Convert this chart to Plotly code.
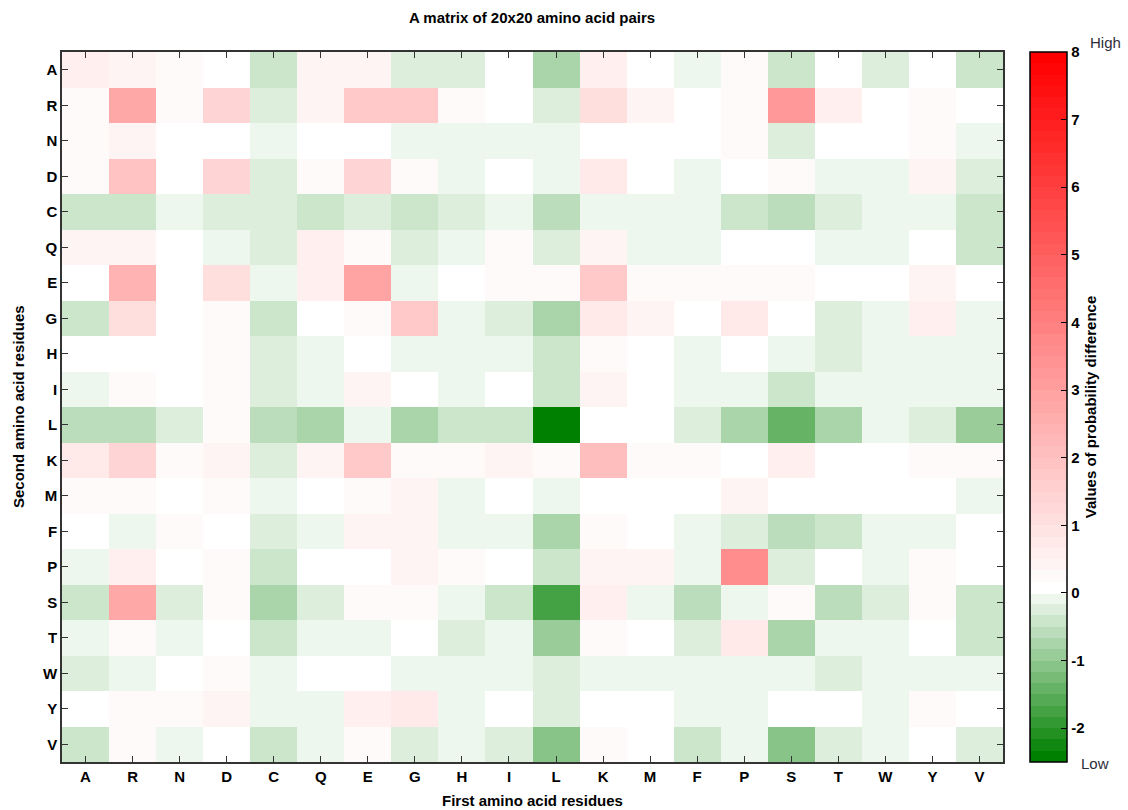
import plotly.graph_objects as go

residues = ["A", "R", "N", "D", "C", "Q", "E", "G", "H", "I",
            "L", "K", "M", "F", "P", "S", "T", "W", "Y", "V"]

# rows = second amino acid residue, columns = first amino acid residue
row_A = [0.6, 0.4, 0.25, 0, -0.45, 0.4, 0.4, -0.3, -0.3, 0, -0.8, 0.6, 0, -0.15, 0.25, -0.45, 0, -0.3, 0, -0.45]
row_R = [0.2, 2.75, 0.25, 1.4, -0.3, 0.4, 1.8, 1.8, 0.25, 0, -0.3, 1.05, 0.4, 0, 0.25, 3.25, 0.6, 0, 0.25, 0]
row_N = [0.25, 0.4, 0, 0, -0.15, 0, 0, -0.15, -0.15, -0.15, -0.15, 0, 0, 0, 0.25, -0.3, 0, 0, 0.25, -0.15]
row_D = [0.25, 1.9, 0, 1.45, -0.3, 0.25, 1.45, 0.25, -0.15, 0, -0.15, 0.75, 0, -0.15, 0, 0.25, -0.15, -0.15, 0.45, -0.3]
row_C = [-0.45, -0.45, -0.15, -0.3, -0.3, -0.45, -0.3, -0.45, -0.3, -0.15, -0.65, -0.15, -0.15, -0.15, -0.45, -0.65, -0.3, -0.15, -0.15, -0.45]
row_Q = [0.4, 0.4, 0, -0.15, -0.3, 0.6, 0.25, -0.3, -0.15, 0.25, -0.3, 0.4, -0.15, -0.15, 0, 0, -0.15, -0.15, 0, -0.45]
row_E = [0, 2.4, 0, 1.05, -0.15, 0.6, 2.95, -0.15, 0, 0.25, 0.25, 1.7, 0.25, 0.25, 0.25, 0.25, 0, 0, 0.45, 0]
row_G = [-0.45, 1.05, 0, 0.25, -0.45, 0, 0.25, 1.8, -0.15, -0.3, -0.8, 0.75, 0.4, 0, 0.7, 0, -0.3, -0.15, 0.6, -0.15]
row_H = [0, 0, 0, 0.25, -0.3, -0.15, 0, -0.15, -0.15, -0.15, -0.45, 0.25, 0, -0.15, 0, -0.15, -0.3, -0.15, -0.15, -0.15]
row_I = [-0.15, 0.25, 0, 0.25, -0.3, -0.15, 0.4, 0, -0.15, 0, -0.45, 0.45, 0, -0.15, -0.15, -0.45, -0.15, -0.15, -0.15, -0.15]
row_L = [-0.65, -0.65, -0.3, 0.25, -0.65, -0.8, -0.15, -0.8, -0.45, -0.45, -2.45, 0, 0, -0.3, -0.8, -1.45, -0.8, -0.15, -0.3, -0.95]
row_K = [0.75, 1.4, 0.25, 0.35, -0.3, 0.4, 1.8, 0.25, 0.25, 0.35, 0.25, 2.1, 0.25, 0.25, 0, 0.6, 0, 0, 0.25, 0.25]
row_M = [0.25, 0.25, 0, 0.25, -0.15, 0, 0.25, 0.35, -0.15, 0, -0.15, 0, 0, 0, 0.4, 0, 0, 0, 0, -0.15]
row_F = [0, -0.15, 0.25, 0, -0.3, -0.15, 0.35, 0.35, -0.15, -0.15, -0.8, 0.25, 0, -0.15, -0.3, -0.65, -0.45, -0.15, -0.15, 0]
row_P = [-0.15, 0.6, 0, 0.25, -0.45, 0, 0, 0.35, 0.25, 0, -0.45, 0.35, 0.35, -0.15, 3.6, -0.3, 0, -0.15, 0.25, 0]
row_S = [-0.45, 2.75, -0.3, 0.25, -0.8, -0.3, 0.25, 0.25, -0.15, -0.45, -1.8, 0.65, -0.15, -0.65, -0.15, 0.25, -0.65, -0.3, 0.25, -0.45]
row_T = [-0.15, 0.25, -0.15, 0, -0.45, -0.15, -0.15, 0, -0.3, -0.15, -0.95, 0.25, 0, -0.3, 0.7, -0.8, -0.15, -0.15, 0, -0.45]
row_W = [-0.3, -0.15, 0, 0.25, -0.15, 0, 0, -0.15, -0.15, -0.15, -0.3, -0.15, -0.15, -0.15, -0.15, -0.15, -0.3, -0.15, -0.15, -0.15]
row_Y = [0, 0.25, 0.25, 0.35, -0.15, -0.15, 0.6, 0.7, -0.15, 0, -0.3, 0, 0, -0.15, -0.15, 0, 0, -0.15, 0.25, 0]
row_V = [-0.45, 0.25, -0.15, 0, -0.45, -0.15, 0.25, -0.3, -0.15, -0.3, -1.15, 0.3, 0, -0.45, -0.15, -1.15, -0.3, -0.15, 0, -0.3]

z_rows = [row_A, row_R, row_N, row_D, row_C, row_Q, row_E, row_G, row_H, row_I,
          row_L, row_K, row_M, row_F, row_P, row_S, row_T, row_W, row_Y, row_V]

cbar_ticks = [-2, -1, 0, 1, 2, 3, 4, 5, 6, 7, 8]
cbar_labels = ["-2", "-1", "0", "1", "2", "3", "4", "5", "6", "7", "8"]
zmin, zmax = -2.5, 8.0

# stepped colormap: 63 levels of 1/6 each (15 green, 48 red)
step = 1.0 / 6.0
n_green, n_red = 15, 48
bounds = [zmin + j * step for j in range(n_green + n_red + 1)]
bounds[n_green] = -0.01
colors = []
for k in range(n_green, 0, -1):
    t = k / n_green
    colors.append("rgb(%d,%d,%d)" % (round(255 - 255 * t), round(255 - 127 * t), round(255 - 255 * t)))
for k in range(1, n_red + 1):
    t = (k - 1) / (n_red - 1)
    g = round(255 - 255 * t)
    colors.append("rgb(255,%d,%d)" % (g, g))
colorscale = []
for i, c in enumerate(colors):
    lo = (bounds[i] - zmin) / (zmax - zmin)
    hi = (bounds[i + 1] - zmin) / (zmax - zmin)
    colorscale.append([max(0.0, lo), c])
    colorscale.append([min(1.0, hi), c])

bold = dict(family="Liberation Sans, Arial, sans-serif", size=15, color="black", weight="bold")
narrow = dict(family="Liberation Sans Narrow, Arial Narrow, Liberation Sans, sans-serif",
              size=15, color="black", weight="bold")

# plot area in pixels
L, R, T, B = 62, 1003, 52, 762
W, H = 1128, 810
pw, ph = R - L, B - T

def px_x(x):
    return (x - L) / pw

def px_y(y):
    return (B - y) / ph

fig = go.Figure(go.Heatmap(
    z=z_rows, x=residues, y=residues,
    colorscale=colorscale, zmin=zmin, zmax=zmax,
    xgap=0, ygap=0,
    colorbar=dict(
        x=px_x(1030), xanchor="left", xpad=0, ypad=0,
        y=0.5, yanchor="middle", len=1.0, lenmode="fraction",
        thickness=37, outlinecolor="black", outlinewidth=1.5,
        tickvals=cbar_ticks, ticktext=cbar_labels,
        ticks="inside", ticklen=6, tickcolor="black",
        tickfont=bold,
        title=dict(text="Values of probability difference", side="right", font=bold),
    ),
))

fig.update_layout(
    width=W, height=H,
    margin=dict(l=L, r=W - R, t=T, b=H - B, autoexpand=False),
    paper_bgcolor="white", plot_bgcolor="white",
    title=dict(text="A matrix of 20x20 amino acid pairs", x=532 / W, xanchor="center",
               y=1 - 18 / H, yanchor="middle", font=narrow),
    xaxis=dict(
        type="category", tickfont=bold, ticks="inside", ticklen=6, tickcolor="#333",
        showline=True, linecolor="#333", linewidth=1.5, mirror="ticks",
        showgrid=False, zeroline=False, automargin=False,
    ),
    yaxis=dict(
        type="category", autorange="reversed", tickfont=bold, ticks="inside", ticklen=6,
        tickcolor="#333", showline=True, linecolor="#333", linewidth=1.5, mirror="ticks",
        showgrid=False, zeroline=False, automargin=False,
    ),
    annotations=[
        dict(text="First amino acid residues", xref="paper", yref="paper",
             x=px_x(532), y=px_y(800), showarrow=False, font=narrow,
             xanchor="center", yanchor="middle"),
        dict(text="Second amino acid residues", xref="paper", yref="paper",
             x=px_x(18), y=px_y(407), showarrow=False, font=narrow, textangle=-90,
             xanchor="center", yanchor="middle"),
        dict(text="High", xref="paper", yref="paper", x=px_x(1105), y=px_y(42),
             showarrow=False, xanchor="center", yanchor="middle",
             font=dict(family="Liberation Sans, Arial", size=15, color="#2d2d3a")),
        dict(text="Low", xref="paper", yref="paper", x=px_x(1095), y=px_y(763),
             showarrow=False, xanchor="center", yanchor="middle",
             font=dict(family="Liberation Sans, Arial", size=15, color="#2d2d3a")),
    ],
)

fig.write_html("out.html", config={"displayModeBar": False},
               post_script="document.body.style.margin='0';")
